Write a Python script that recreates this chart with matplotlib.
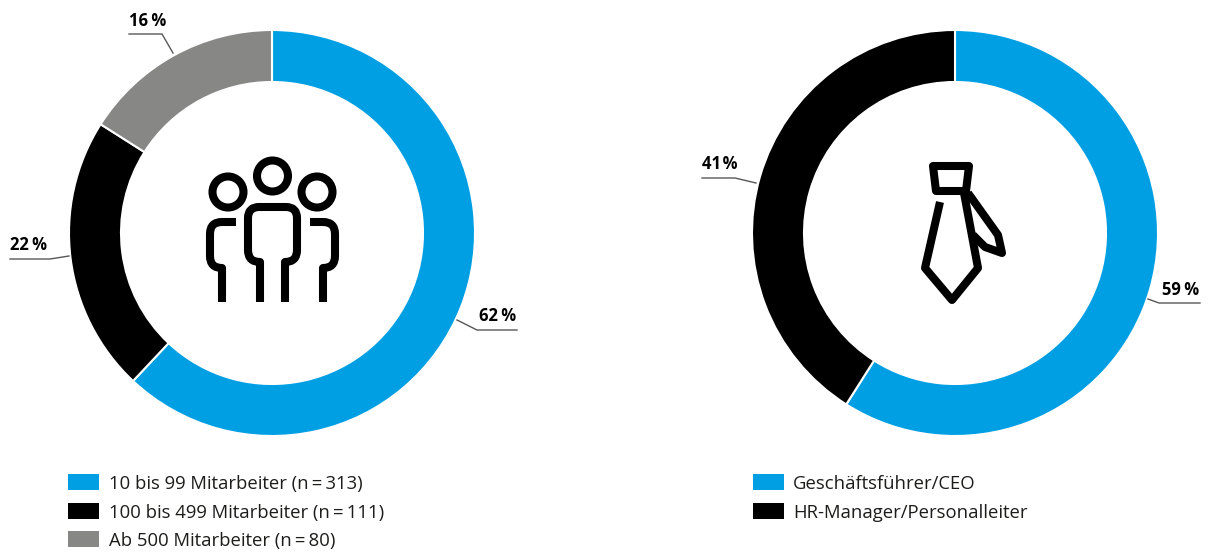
import matplotlib
matplotlib.use("Agg")
from matplotlib import pyplot as plt
from matplotlib.patches import Circle, PathPatch, Rectangle
from matplotlib.path import Path

size_labels = ["10 bis 99 Mitarbeiter (n\u2009=\u2009313)", "100 bis 499 Mitarbeiter (n\u2009=\u2009111)", "Ab 500 Mitarbeiter (n\u2009=\u200980)"]
size_values = [62, 22, 16]
size_pct = ["62\u2009%", "22\u2009%", "16\u2009%"]
role_labels = ["Geschäftsführer/CEO", "HR-Manager/Personalleiter"]
role_values = [59, 41]
role_pct = ["59\u2009%", "41\u200a%"]
BLUE = "#009fe3"
BLACK = "#000000"
GREY = "#878786"
W, H = 1209, 553

plt.rcParams["font.family"] = ["Open Sans", "DejaVu Sans"]
fig = plt.figure(figsize=(W / 100, H / 100), dpi=100)
ax = fig.add_axes([0, 0, 1, 1])


def flip(points):
    return [(x, H - y) for x, y in points]


def donut(values, colors, cx):
    ax.pie(values, colors=colors, center=(cx, H - 233), radius=203, startangle=90, counterclock=False,
           wedgeprops=dict(width=52, edgecolor="white", linewidth=1.5))


def leader(points, text, tx, ty):
    xs, ys = zip(*flip(points))
    ax.plot(xs, ys, color="#575756", lw=1.0, solid_joinstyle="miter")
    ax.text(tx, H - ty, text, fontsize=12, fontweight="bold", ha="left", va="center", color="black")


def legend(labels, colors, sx, tx, rows):
    for label, color, y in zip(labels, colors, rows):
        ax.add_patch(Rectangle((sx, H - y - 8), 31, 16, facecolor=color, edgecolor="none"))
        ax.text(tx, H - y - 2, label, fontsize=13.3, ha="left", va="center", color="#1d1d1b")


def stroke(verts, codes, lw):
    ax.add_patch(PathPatch(Path(flip(verts), codes), facecolor="none", edgecolor="black", lw=lw,
                           capstyle="butt", joinstyle="round"))


def ring(x, y, r):
    ax.add_patch(Circle((x, H - y), r, facecolor="none", edgecolor="black", lw=5.8))


M, L, Q = Path.MOVETO, Path.LINETO, Path.CURVE3

donut(size_values, [BLUE, BLACK, GREY], 272)
donut(role_values, [BLUE, BLACK], 955)

leader([(457, 320), (477, 330), (517, 330)], size_pct[0], 479, 316)
leader([(10, 259), (50, 259), (69, 256)], size_pct[1], 10, 245)
leader([(129, 34), (162, 34), (173, 53)], size_pct[2], 129, 21)
leader([(1148, 299), (1159, 303), (1200, 303)], role_pct[0], 1162, 290)
leader([(702, 178), (735, 178), (756, 183)], role_pct[1], 702, 164)

legend(size_labels, [BLUE, BLACK, GREY], 68, 109, [482, 511, 539])
legend(role_labels, [BLUE, BLACK], 753, 793, [482, 511])

# people icon
ring(272.5, 176, 15.5)
ring(228, 192, 15.5)
ring(317, 192, 15.5)
stroke([(260, 302), (260, 262), (248, 262), (248, 250), (248, 218), (248, 207), (259, 207),
        (286, 207), (297, 207), (297, 218), (297, 250), (297, 262), (285, 262), (285, 302)],
       [M, L, Q, Q, L, Q, Q, L, Q, Q, L, Q, Q, L], 5.8)
stroke([(236, 222), (222, 222), (210, 222), (210, 234), (210, 256), (210, 268), (222, 268), (222, 302)],
       [M, L, Q, Q, L, Q, Q, L], 5.8)
stroke([(310, 222), (323, 222), (335, 222), (335, 234), (335, 256), (335, 268), (323, 268), (323, 302)],
       [M, L, Q, Q, L, Q, Q, L], 5.8)

# tie icon
stroke([(933, 166), (969, 166), (966, 191), (936, 191), (933, 166)], [M, L, L, L, Path.CLOSEPOLY], 5.8)
stroke([(940, 202), (925, 268), (952, 300), (978, 268), (964, 193)], [M, L, L, L, L], 5.8)
stroke([(968, 193), (998, 235), (1002, 253), (985, 247), (973, 235)], [M, L, L, L, L], 5.8)

ax.set_xlim(0, W)
ax.set_ylim(0, H)
ax.set_aspect("auto")
ax.axis("off")
fig.savefig("out.png", dpi=100, facecolor="white")
